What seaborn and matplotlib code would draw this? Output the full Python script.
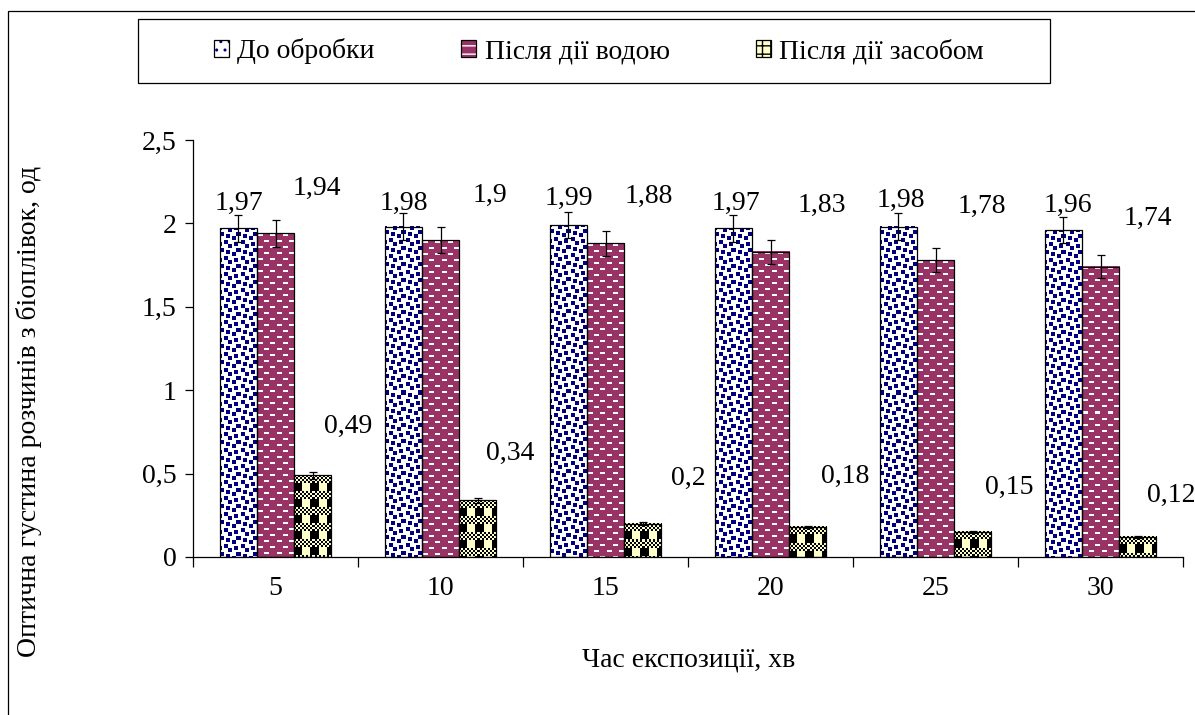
import numpy as np
import pandas as pd
import matplotlib
matplotlib.use("Agg")
import matplotlib.pyplot as plt
import seaborn as sns
from matplotlib.patches import Patch, Rectangle
from matplotlib.legend_handler import HandlerTuple
from matplotlib.ticker import FuncFormatter, FixedLocator

# ---- дані ----
times = ["5", "10", "15", "20", "25", "30"]
groups = ["До обробки", "Після дії водою", "Після дії засобом"]
before = [1.97, 1.98, 1.99, 1.97, 1.98, 1.96]
water = [1.94, 1.90, 1.88, 1.83, 1.78, 1.74]
agent = [0.49, 0.34, 0.20, 0.18, 0.15, 0.12]
err_before = [0.08, 0.08, 0.08, 0.08, 0.08, 0.08]
err_water = [0.08, 0.08, 0.075, 0.073, 0.071, 0.07]
err_agent = [0.02, 0.014, 0.008, 0.007, 0.006, 0.005]
value_labels = [["1,97", "1,98", "1,99", "1,97", "1,98", "1,96"],
                ["1,94", "1,9", "1,88", "1,83", "1,78", "1,74"],
                ["0,49", "0,34", "0,2", "0,18", "0,15", "0,12"]]

# положення підписів (як у вихідній діаграмі Excel)
lab_dx = [[-0.22, -0.22, -0.22, -0.21, -0.21, -0.20],
          [0.25, 0.30, 0.26, 0.31, 0.28, 0.29],
          [0.44, 0.42, 0.50, 0.45, 0.45, 0.43]]
lab_y = [[2.078, 2.078, 2.11, 2.078, 2.096, 2.066],
         [2.17, 2.128, 2.12, 2.066, 2.06, 1.99],
         [0.743, 0.58, 0.43, 0.443, 0.38, 0.33]]

df = pd.DataFrame({
    "time": times * 3,
    "group": [groups[0]] * 6 + [groups[1]] * 6 + [groups[2]] * 6,
    "value": before + water + agent,
})
errs = [err_before, err_water, err_agent]

plt.rcParams["font.family"] = ["Liberation Serif", "DejaVu Serif"]
SERIF = ["Liberation Serif", "DejaVu Serif"]
FS = 20

NAVY = np.array([0, 0, 0.5])
WHITE = np.array([1.0, 1.0, 1.0])
CRIMSON = np.array([0.6, 0.2, 0.4])
YEL = np.array([1.0, 1.0, 0.8])
BLACK = np.array([0.0, 0.0, 0.0])


# ---- текстури (візерунки заливки, як у Excel) ----
def bits_to_tile(rows, fg, bg, scale=2):
    m = np.array([[int(ch) for ch in r] for r in rows])
    m = np.kron(m, np.ones((scale, scale)))
    t = np.where(m[..., None] > 0, fg, bg)
    return t


confetti = ["10001101", "00001100", "11000000", "11011000",
            "00011011", "00000011", "00110000", "10110001"]
plaid = ["10101010", "01010101", "10101010", "01010101",
         "11110000", "11110000", "11110000", "11110000"]


def tile_red():
    t = np.ones((12, 12, 3)) * CRIMSON
    t[1:3, 1:6] = WHITE
    t[7:9, 7:12] = WHITE
    return t


tiles = [bits_to_tile(confetti, NAVY, WHITE),
         tile_red(),
         bits_to_tile(plaid, BLACK, YEL)]
palette = ["white", "#993366", "#FFFFCC"]

fig = plt.figure(figsize=(11.95, 7.15), dpi=100)
ax = fig.add_axes([193 / 1195, 1 - 557 / 715, 990 / 1195, 417 / 715])

sns.barplot(data=df, x="time", y="value", hue="group", order=times,
            hue_order=groups, palette=palette, width=0.673,
            edgecolor="black", linewidth=0.9, errorbar=None, legend=False,
            ax=ax, zorder=3)

ax.set_xlim(-0.5, 5.5)
ax.set_ylim(0, 2.5)
ax.set_autoscale_on(False)

bar_containers = list(ax.containers)

# заливка стовпців візерунками
for k, cont in enumerate(bar_containers):
    for bar in cont:
        x0, w, h = bar.get_x(), bar.get_width(), bar.get_height()
        p0 = ax.transData.transform((x0, 0))
        p1 = ax.transData.transform((x0 + w, h))
        wpx = max(int(round(p1[0] - p0[0])), 1)
        hpx = max(int(round(p1[1] - p0[1])), 1)
        t = tiles[k]
        reps = (hpx // t.shape[0] + 2, wpx // t.shape[1] + 2, 1)
        arr = np.tile(t, reps)[:hpx, :wpx]
        ax.imshow(arr, extent=(x0, x0 + w, 0, h), aspect="auto",
                  interpolation="nearest", zorder=2.5)
        bar.set_facecolor("none")
        bar.set_zorder(3)

    xs = [b.get_x() + b.get_width() / 2 for b in cont]
    hs = [b.get_height() for b in cont]
    ax.errorbar(xs, hs, yerr=errs[k], fmt="none", ecolor="black",
                elinewidth=0.9, capsize=3, capthick=0.9, zorder=4)

    for i in range(len(times)):
        ax.text(i + lab_dx[k][i], lab_y[k][i], value_labels[k][i],
                ha="center", va="baseline", fontsize=FS, family=SERIF,
                clip_on=False)

ax.set_xlim(-0.5, 5.5)
ax.set_ylim(0, 2.5)

# осі
sns.despine(ax=ax)
for s in ["left", "bottom"]:
    ax.spines[s].set_linewidth(0.9)
ax.set_yticks(np.arange(0, 2.51, 0.5))
ax.yaxis.set_major_formatter(FuncFormatter(lambda v, p: f"{v:g}".replace(".", ",")))
ax.tick_params(axis="y", labelsize=FS, length=6, width=0.9, pad=6, direction="out")
ax.set_xticks(range(len(times)))
ax.set_xticklabels(times)
ax.xaxis.set_minor_locator(FixedLocator(np.arange(-0.5, 5.6, 1)))
ax.tick_params(axis="x", which="major", labelsize=FS, length=0, pad=14)
ax.tick_params(axis="x", which="minor", length=7, width=0.9, direction="out")
ax.set_xlabel("")
ax.set_ylabel("")

fig.text(689 / 1195, 1 - 660 / 715, "Час експозиції, хв", ha="center",
         va="center", fontsize=FS, family=SERIF)
fig.text(29 / 1195, 1 - 411 / 715, "Оптична густина розчинів з біоплівок, од",
         ha="center", va="center", rotation=90, fontsize=FS, family=SERIF)

# легенда
handles = [
    (Patch(facecolor="white", edgecolor="#000080", hatch="..", lw=0),
     Patch(facecolor="none", edgecolor="black", lw=0.9)),
    (Patch(facecolor="#993366", edgecolor="white", hatch="--", lw=0),
     Patch(facecolor="none", edgecolor="black", lw=0.9)),
    (Patch(facecolor="#FFFFCC", edgecolor="black", hatch="++", lw=0),
     Patch(facecolor="none", edgecolor="black", lw=0.9)),
]
fig.legend(handles, groups, handler_map={tuple: HandlerTuple(ndivide=1)},
           loc="center", bbox_to_anchor=(599 / 1195, 1 - 51 / 715), ncol=3,
           frameon=False, prop={"family": SERIF, "size": FS},
           handlelength=0.55, handleheight=0.55,
           handletextpad=0.3, columnspacing=3.1, borderpad=0)
fig.patches.append(Rectangle((138 / 1195, 1 - 83 / 715), 912 / 1195, 64 / 715,
                             transform=fig.transFigure, facecolor="none",
                             edgecolor="black", lw=0.9))
# рамка області діаграми
fig.patches.append(Rectangle((8 / 1195, -0.05), 1.1, 1 - 11 / 715 + 0.05,
                             transform=fig.transFigure, facecolor="none",
                             edgecolor="black", lw=0.9, clip_on=False))

fig.savefig("out.png", dpi=100)
